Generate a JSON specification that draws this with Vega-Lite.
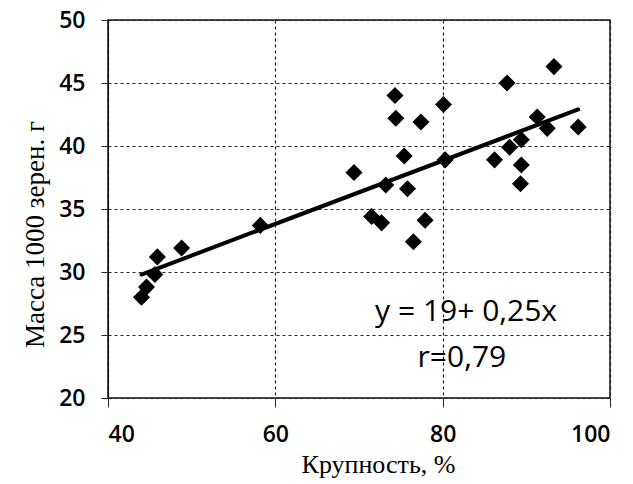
{
  "$schema": "https://vega.github.io/schema/vega-lite/v6.json",
  "autosize": "none",
  "width": 502,
  "height": 378,
  "padding": {"left": 108, "top": 20, "right": 23, "bottom": 86},
  "background": "white",
  "config": {
    "view": {"stroke": "#111", "strokeWidth": 1.5},
    "axis": {
      "labelFont": "Open Sans", "labelFontSize": 23, "labelFontWeight": 600, "labelColor": "#000",
      "titleFont": "Liberation Serif", "titleFontSize": 27, "titleFontWeight": "normal", "titleColor": "#000",
      "tickColor": "#222", "domainColor": "#111"
    }
  },
  "datasets": {
    "points": [
      {"x": 44.0, "y": 28.0}, {"x": 44.6, "y": 28.8}, {"x": 45.6, "y": 29.8}, {"x": 45.9, "y": 31.2},
      {"x": 48.8, "y": 31.9}, {"x": 58.2, "y": 33.7},
      {"x": 93.3, "y": 46.3}, {"x": 87.7, "y": 45.0}, {"x": 74.3, "y": 44.0}, {"x": 80.1, "y": 43.3},
      {"x": 74.4, "y": 42.2}, {"x": 77.4, "y": 41.9}, {"x": 91.3, "y": 42.3}, {"x": 92.5, "y": 41.4},
      {"x": 96.2, "y": 41.5}, {"x": 89.4, "y": 40.5}, {"x": 88.0, "y": 39.9}, {"x": 75.4, "y": 39.2},
      {"x": 80.3, "y": 38.9}, {"x": 86.2, "y": 38.9}, {"x": 89.4, "y": 38.5}, {"x": 69.4, "y": 37.9},
      {"x": 73.2, "y": 36.9}, {"x": 75.8, "y": 36.6}, {"x": 89.3, "y": 37.0}, {"x": 71.5, "y": 34.4},
      {"x": 72.7, "y": 33.9}, {"x": 77.9, "y": 34.1}, {"x": 76.5, "y": 32.4}
    ],
    "trend": [{"x": 44.0, "y": 29.8}, {"x": 96.2, "y": 42.9}],
    "notes": [
      {"x": 82.8, "y": 26.8, "label": "y = 19+ 0,25x"},
      {"x": 82.3, "y": 23.2, "label": "r=0,79"}
    ]
  },
  "layer": [
    {
      "data": {"name": "points"},
      "mark": {"type": "point", "shape": "diamond", "filled": true, "color": "#000", "size": 290, "opacity": 1},
      "encoding": {
        "x": {"field": "x", "type": "quantitative",
              "scale": {"domain": [40, 100], "nice": false, "zero": false},
              "axis": {"values": [40, 60, 80, 100], "grid": true, "gridColor": "#222", "gridDash": [3, 3], "gridWidth": 1.2, "gridOpacity": 1,
                       "title": "Крупность, %", "tickSize": 9, "labelPadding": 16,
                       "domain": false, "titleX": 270, "titleY": 74, "titleBaseline": "alphabetic", "titleFontSize": 26}},
        "y": {"field": "y", "type": "quantitative",
              "scale": {"domain": [20, 50], "nice": false, "zero": false},
              "axis": {"values": [20, 25, 30, 35, 40, 45, 50], "grid": true, "gridColor": "#222", "gridDash": [3, 3], "gridWidth": 1.2, "gridOpacity": 1,
                       "title": "Масса 1000  зерен.  г", "tickSize": 7,
                       "labelPadding": 16, "titleX": -73, "titleY": 214, "titleAngle": -90, "titleBaseline": "middle", "titleAlign": "center"}}
      }
    },
    {
      "data": {"name": "trend"},
      "mark": {"type": "line", "color": "#000", "strokeWidth": 4, "strokeCap": "round"},
      "encoding": {
        "x": {"field": "x", "type": "quantitative"},
        "y": {"field": "y", "type": "quantitative"}
      }
    },
    {
      "data": {"name": "notes"},
      "mark": {"type": "text", "font": "Open Sans", "fontSize": 30, "color": "#000", "align": "center", "baseline": "middle"},
      "encoding": {
        "x": {"field": "x", "type": "quantitative"},
        "y": {"field": "y", "type": "quantitative"},
        "text": {"field": "label"}
      }
    }
  ]
}
